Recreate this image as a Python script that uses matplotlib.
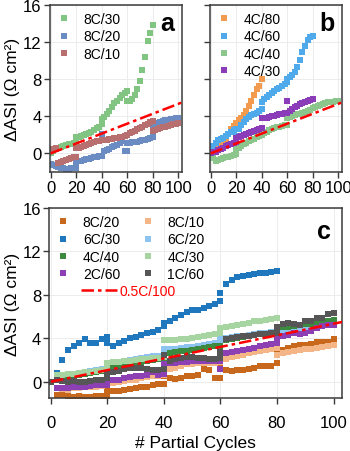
import matplotlib
matplotlib.use("Agg")
import matplotlib.pyplot as plt

plt.rcParams['font.family'] = ['Liberation Sans', 'DejaVu Sans']

# ---- data (one value every 2 cycles, each 20-cycle block repeats its start point)
a_labels = ["8C/30", "8C/20", "8C/10"]
a_colors = ["#82c482", "#6b8cc2", "#b86f6f"]
a_8c30 = [0.0, 0.3, 0.5, 0.6, 0.7, 0.8, 0.9, 1.0, 1.0, 1.1, 1.2,
          1.8, 1.8, 1.9, 2.0, 2.1, 2.2, 2.35, 2.5, 2.7, 2.9, 3.2,
          3.7, 3.9, 4.2, 4.6, 5.0, 5.4, 5.7, 6.0, 6.3, 6.5, 6.7,
          5.6, 5.7, 5.9, 6.3, 6.9, 7.8, 9.0, 10.4, 12.1, 13.0, 13.8]
a_8c20 = [-1.1, -1.3, -1.4, -1.5, -1.6, -1.6, -1.7, -1.7, -1.6, -1.6, -1.6,
          -0.9, -0.8, -0.8, -0.7, -0.6, -0.6, -0.5, -0.4, -0.4, -0.3, -0.3,
          2.1, 0.3, 0.4, 0.5, 0.7, 0.8, 0.9, 1.1, 1.3, 0.25, 0.3,
          1.1, 1.15, 1.2, 1.2, 1.25, 1.3, 1.4, 1.5, 1.6, 1.7, 1.8,
          3.0, 3.1, 3.3, 3.4, 3.5, 3.55, 3.6, 3.7, 3.75, 3.8, 3.85]
a_8c10 = [0.4, 0.5, 0.6, -1.0, -0.9, -0.8, -0.7, -0.6, -0.5, -0.4, -0.35,
          0.6, 0.6, 0.7, 0.8, 0.9, 1.0, 1.1, 1.2, 1.3, 1.35, 1.4,
          1.4, 1.45, 1.5, 1.55, 1.6, 1.65, 1.7, 1.75, 1.8, 1.9, 1.95,
          2.0, 2.15, 2.3, 2.45, 2.6, 2.75, 2.9, 3.05, 3.2, 3.35, 3.5,
          2.4, 2.5, 2.6, 2.7, 2.8, 2.9, 3.0, 3.1, 3.15, 3.2, 3.3]

b_labels = ["4C/80", "4C/60", "4C/40", "4C/30"]
b_colors = ["#f29a4e", "#4eaaea", "#8cc68c", "#8b3cb8"]
b_4c80 = [0.0, -0.2, 0.3, 0.6, 0.9, 1.2, 1.6, 2.1, 2.6, 3.0, 3.3,
          3.3, 3.6, 3.8, 4.1, 4.6, 5.1, 5.7, 6.3, 6.9, 7.3, 8.0]
b_4c60 = [0.5, 0.8, 1.1, 1.4, 1.6, 1.7, 1.9, 2.1, 2.3, 2.5, 2.6,
          1.9, 2.6, 3.1, 3.4, 3.7, 3.9, 4.1, 4.2, 4.4, 4.6, 4.8,
          5.5, 5.9, 6.1, 6.3, 6.5, 6.7, 6.9, 7.1, 7.3, 7.5, 7.7,
          8.0, 8.2, 8.4, 8.8, 9.3, 10.1, 10.9, 11.6, 12.2, 12.5, 12.7]
b_4c40 = [0.0, -0.5, -0.8, -0.7, -0.6, -0.5, -0.4, -0.35, -0.3, -0.2, -0.1,
          0.5, 0.6, 0.8, 1.0, 1.1, 1.3, 1.5, 1.6, 1.8, 1.9, 2.0,
          2.0, 2.2, 2.3, 2.5, 2.6, 2.7, 2.8, 2.9, 3.0, 3.1, 3.1,
          3.8, 3.9, 4.0, 4.1, 4.2, 4.3, 4.4, 4.5, 4.6, 4.7, 4.9,
          4.9, 5.0, 5.1, 5.2, 5.3, 5.4, 5.5, 5.5, 5.55, 5.6, 5.6]
b_4c30 = [0.0, 0.1, 0.2, 0.35, 0.5, 0.6, 0.75, 0.9, 1.0, 1.1, 1.2,
          1.7, 1.8, 1.9, 2.0, 2.1, 2.2, 2.3, 2.4, 2.5, 2.6, 2.7,
          3.8, 3.8, 3.8, 3.9, 4.0, 4.0, 4.1, 4.2, 4.3, 4.4, 4.4,
          5.6, 4.6, 4.8, 5.0, 5.1, 5.3, 5.4, 5.5, 5.7, 5.8, 5.9]

c_labels = ["8C/20", "8C/10", "6C/30", "6C/20", "4C/40", "4C/30", "2C/60", "1C/60"]
c_colors = ["#c8681c", "#f5b687", "#1f77bd", "#8cc4ef", "#3b8a3f", "#a6d5a1", "#8d3fb4", "#565656"]
c_8c20 = [0.0, -1.2, -1.25, -1.3, -1.4, -1.35, -1.4, -1.4, -1.35, -1.3, -1.35,
          -0.8, -0.9, -0.85, -0.8, -0.7, -0.55, -0.5, -0.45, -0.35, -0.25, -0.2,
          0.5, 0.35, 0.25, 0.3, 0.5, 0.55, 0.6, 1.2, 1.1, 0.35, 0.35,
          1.4, 1.1, 1.0, 1.05, 1.1, 1.15, 1.3, 1.4, 1.4, 1.45, 1.7,
          2.9, 2.95, 3.1, 3.25, 3.35, 3.4, 3.5, 3.65, 3.7, 3.7, 3.9]
c_8c10 = [0.0, -0.6, -0.65, -0.8, -0.6, -0.55, -0.5, -0.5, -0.45, -0.4, -0.35,
          -0.2, -0.1, 0.0, 0.1, 0.15, 0.2, 0.3, 0.4, 0.5, 0.55, 0.6,
          1.45, 1.2, 1.3, 1.4, 1.6, 1.65, 1.7, 1.75, 1.75, 1.75, 1.8,
          2.05, 2.1, 2.3, 2.4, 2.5, 2.6, 2.7, 2.8, 2.95, 3.0, 3.1,
          2.5, 2.65, 2.75, 2.85, 2.95, 3.0, 3.05, 3.1, 3.2, 3.3, 3.4]
c_6c30 = [0.0, 0.8, 2.0, 2.9, 3.3, 3.6, 3.9, 3.6, 3.6, 3.9, 4.1,
          3.6, 3.3, 3.6, 3.75, 4.0, 4.1, 4.3, 4.5, 4.6, 4.8, 5.1,
          5.4, 5.6, 5.9, 6.1, 6.4, 6.6, 6.6, 6.8, 7.0, 7.15, 7.4,
          8.2, 9.0, 9.4, 9.6, 9.75, 9.85, 9.95, 10.0, 10.05, 10.1, 10.15]
c_6c20 = [0.0, 0.3, 0.4, 0.5, 0.6, 0.7, 0.9, 1.0, 1.1, 1.2, 1.3,
          1.4, 1.6, 1.8, 1.9, 2.0, 2.1, 2.2, 2.3, 2.35, 2.4, 2.5,
          3.0, 3.0, 3.05, 3.1, 3.15, 3.2, 3.3, 3.4, 3.5, 3.6, 3.7,
          3.9, 4.0, 4.1, 4.2, 4.25, 4.3, 4.4, 4.45, 4.5, 4.55, 4.6,
          4.7, 4.8, 4.85, 4.9, 4.95, 5.0, 5.05, 5.1, 5.15, 5.2, 5.3]
c_4c40 = [0.0, 0.2, 0.3, 0.4, 0.5, 0.6, 0.7, 0.8, 0.9, 1.0, 1.1,
          1.2, 1.3, 1.4, 1.5, 1.6, 1.7, 1.8, 1.9, 2.0, 2.1, 2.2,
          2.5, 2.6, 2.7, 2.8, 2.85, 2.9, 3.0, 3.1, 3.2, 3.3, 3.3,
          3.1, 3.8, 3.9, 4.0, 4.1, 4.2, 4.3, 4.35, 4.4, 4.5, 4.6,
          4.9, 5.0, 5.05, 5.1, 5.2, 5.3, 5.35, 5.4, 5.5, 5.6, 5.7]
c_4c30 = [0.0, 0.6, 0.65, 0.7, 0.75, 0.8, 0.85, 0.9, 1.0, 1.1, 1.2,
          1.75, 1.8, 1.85, 1.9, 1.95, 2.0, 2.05, 2.1, 2.15, 2.2, 2.3,
          3.8, 3.8, 3.85, 3.9, 3.95, 4.0, 4.1, 4.2, 4.3, 4.4, 4.5,
          4.9, 5.0, 5.1, 5.2, 5.35, 5.45, 5.55, 5.6, 5.7, 5.8, 5.85]
c_2c60 = [0.0, -0.6, -0.6, -0.55, -0.5, -0.5, -0.45, -0.4, -0.35, -0.35, -0.3,
          0.1, 0.15, 0.2, 0.3, 0.4, 0.5, 0.55, 0.6, 0.9, 0.6, 0.7,
          1.6, 1.7, 1.75, 1.8, 1.85, 1.9, 1.9, 1.95, 1.95, 1.9, 1.9,
          1.2, 2.6, 2.7, 2.8, 2.9, 3.0, 3.1, 3.25, 3.4, 3.5, 3.6,
          4.0, 4.2, 4.3, 4.5, 4.4, 4.5, 4.65, 4.95, 5.1, 5.25, 5.2]
c_1c60 = [0.0, 0.2, 0.1, 0.0, 0.05, 0.0, 0.0, 0.1, 0.15, 0.2, 0.3,
          0.8, 0.9, 1.0, 1.2, 1.3, 1.3, 1.3, 1.2, 1.1, 1.1, 1.2,
          2.5, 1.9, 2.05, 2.2, 2.25, 2.3, 2.2, 2.15, 2.05, 2.1, 2.2,
          2.7, 3.9, 4.0, 4.1, 4.2, 4.25, 4.3, 4.35, 4.4, 4.45, 4.5,
          5.0, 5.3, 5.4, 5.3, 5.2, 5.6, 5.6, 5.9, 5.9, 6.2, 6.3]

ref_label = "0.5C/100"
ref_x = [0, 104]
ref_y = [0, 5.55]


def cycles(values):
    # 0,2,...,20, 20,22,...,40, ... matching the number of values
    xs = []
    start = 0
    while len(xs) < len(values):
        xs += list(range(start, start + 21, 2))
        start += 20
    return xs[:len(values)]


def style_axes(ax, ymin, xpad=2):
    ax.set_xlim(-0.5, 103)
    ax.set_ylim(ymin, 16)
    ax.set_xticks([0, 20, 40, 60, 80, 100])
    ax.set_yticks([0, 4, 8, 12, 16])
    ax.grid(True, color='#ececec', lw=0.7)
    ax.set_axisbelow(True)
    for s in ax.spines.values():
        s.set_color('#3a3a3a')
        s.set_linewidth(1.1)
    ax.tick_params(direction='out', length=4, width=1, color='#3a3a3a', labelsize=12, pad=2)
    ax.tick_params(axis='x', pad=xpad)


def ref_line(ax):
    ax.plot(ref_x, ref_y, color='red', lw=1.8, ls=(0, (5, 1.6, 1.4, 1.6)), zorder=5)


fig = plt.figure(figsize=(3.5, 4.52), dpi=100)
ax_a = fig.add_axes([0.1429, 0.6173, 0.3771, 0.3695])
ax_b = fig.add_axes([0.6, 0.6173, 0.3771, 0.3695])
ax_c = fig.add_axes([0.1414, 0.1173, 0.8357, 0.4204])

ms = 4.2

# panel a
for vals, lab, col in zip([a_8c30, a_8c20, a_8c10], a_labels, a_colors):
    ax_a.plot(cycles(vals), vals, 's', ms=ms, mew=0, color=col, label=lab)
ref_line(ax_a)
style_axes(ax_a, -2)
ax_a.set_ylabel('ΔASI (Ω cm²)', fontsize=12.5, labelpad=2)
ax_a.legend(loc='upper left', frameon=False, fontsize=10, handlelength=1.0,
            handletextpad=0.9, labelspacing=0.25, borderaxespad=0.3, borderpad=0.2)
ax_a.text(0.89, 0.89, 'a', transform=ax_a.transAxes, fontsize=18, fontweight='bold',
          ha='center', va='center')

# panel b
for vals, lab, col in zip([b_4c80, b_4c60, b_4c40, b_4c30], b_labels, b_colors):
    ax_b.plot(cycles(vals), vals, 's', ms=ms, mew=0, color=col, label=lab)
ref_line(ax_b)
style_axes(ax_b, -2)
ax_b.set_yticklabels([])
ax_b.legend(loc='upper left', frameon=False, fontsize=10, handlelength=1.0,
            handletextpad=0.9, labelspacing=0.25, borderaxespad=0.3, borderpad=0.2)
ax_b.text(0.89, 0.89, 'b', transform=ax_b.transAxes, fontsize=18, fontweight='bold',
          ha='center', va='center')

# panel c
c_series = [c_8c20, c_8c10, c_6c30, c_6c20, c_4c40, c_4c30, c_2c60, c_1c60]
handles = {}
for vals, lab, col in zip(c_series, c_labels, c_colors):
    h, = ax_c.plot(cycles(vals), vals, 's', ms=ms + 0.3, mew=0, color=col, label=lab)
    handles[lab] = h
ref_line(ax_c)
style_axes(ax_c, -1.5, xpad=8)
ax_c.set_ylabel('ΔASI (Ω cm²)', fontsize=12.5, labelpad=2)
ax_c.set_xlabel('# Partial Cycles', fontsize=12.5, labelpad=4)

order = ["8C/20", "6C/30", "4C/40", "2C/60", "8C/10", "6C/20", "4C/30", "1C/60"]
leg = ax_c.legend([handles[k] for k in order], order, loc='upper left', ncol=2,
                  frameon=False, fontsize=10, handlelength=1.0, handletextpad=0.9,
                  labelspacing=0.25, columnspacing=1.5, borderaxespad=0.3, borderpad=0.2)
ax_c.add_artist(leg)
ref_handle, = ax_c.plot([], [], color='red', lw=1.8, ls=(0, (5, 1.6, 1.4, 1.6)))
leg2 = ax_c.legend([ref_handle], [ref_label], loc='upper left', bbox_to_anchor=(0.065, 0.665),
                   frameon=False, fontsize=10, handlelength=2.6, handletextpad=0.2)
for t in leg2.get_texts():
    t.set_color('red')
ax_c.text(0.94, 0.88, 'c', transform=ax_c.transAxes, fontsize=18, fontweight='bold',
          ha='center', va='center')

fig.savefig('out.png', dpi=100)
